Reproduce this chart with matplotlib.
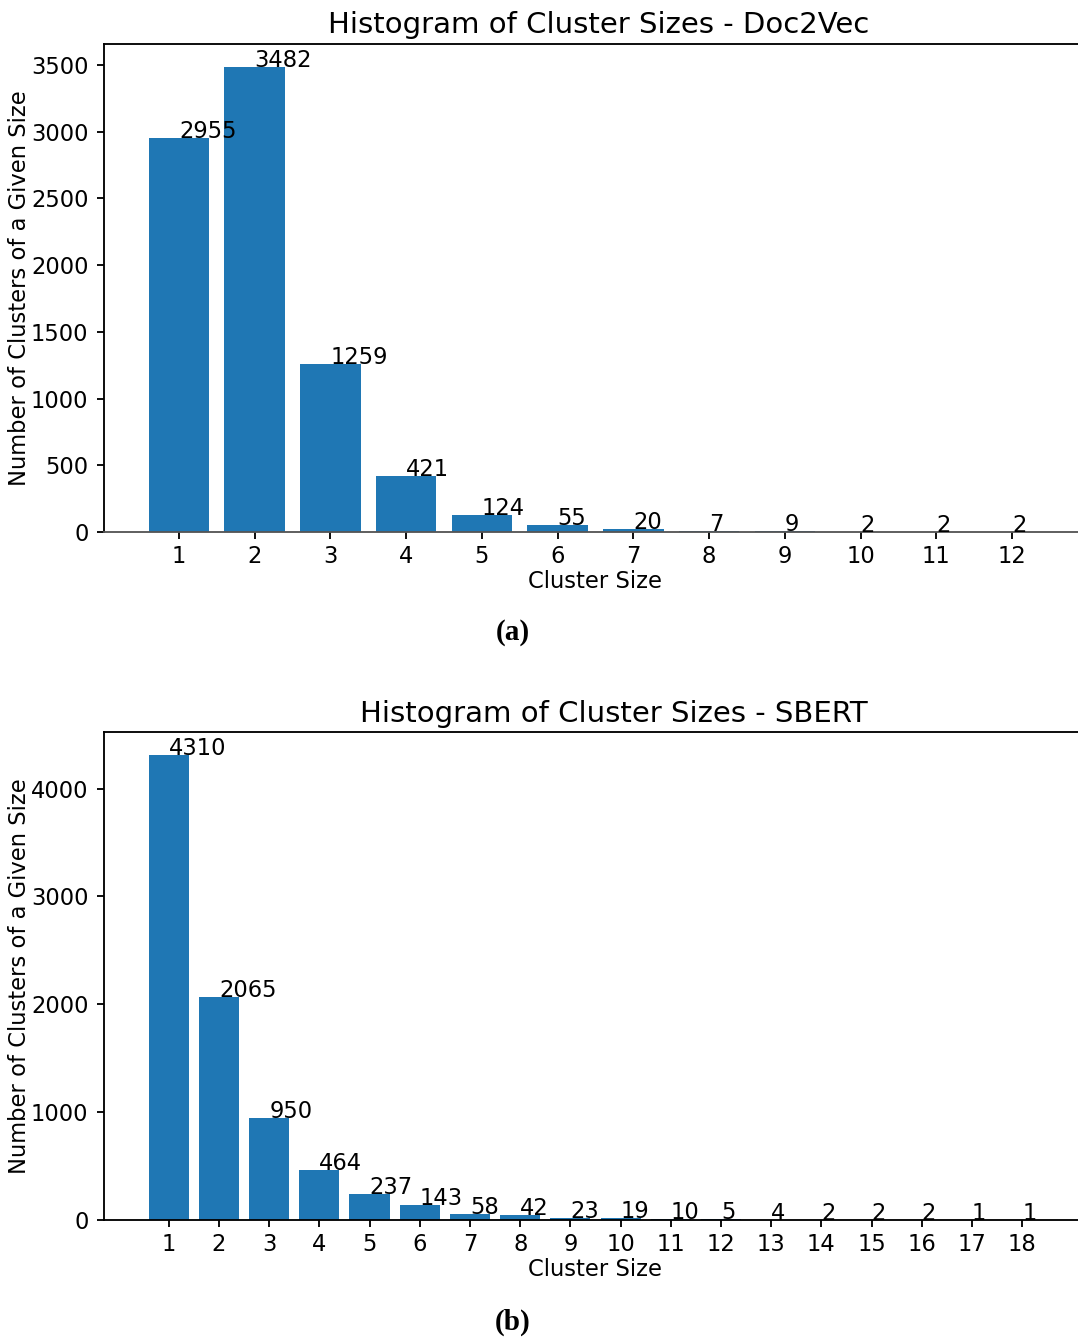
import numpy as np
import matplotlib
matplotlib.use("Agg")
import matplotlib.pyplot as plt

# cluster size histograms
doc2vec_sizes = list(range(1, 13))
doc2vec_counts = [2955, 3482, 1259, 421, 124, 55, 20, 7, 9, 2, 2, 2]

sbert_sizes = list(range(1, 19))
sbert_counts = [4310, 2065, 950, 464, 237, 143, 58, 42, 23, 19, 10, 5, 4, 2, 2, 2, 1, 1]

W, H = 1078, 1338
S = 1.66  # scale from default sizes
FS = 16.3

plt.rcParams['font.family'] = ['DejaVu Sans']
plt.rcParams['axes.linewidth'] = 0.8 * S
plt.rcParams['xtick.major.size'] = 3.2 * S
plt.rcParams['ytick.major.size'] = 3.2 * S
plt.rcParams['xtick.major.width'] = 0.8 * S
plt.rcParams['ytick.major.width'] = 0.8 * S
plt.rcParams['xtick.major.pad'] = 2.3 * S
plt.rcParams['ytick.major.pad'] = 3.5 * S

fig = plt.figure(figsize=(W / 100, H / 100), dpi=100)


def px_axes(left, top, right, bottom):
    return fig.add_axes([left / W, 1 - bottom / H, (right - left) / W, (bottom - top) / H])


def draw(ax, sizes, counts, title, title_x, pad):
    ax.bar(sizes, counts, color='#1f77b4')
    for s, c in zip(sizes, counts):
        ax.text(s, c, str(c), fontsize=FS)
    ax.set_xticks(sizes)
    ax.tick_params(labelsize=FS)
    ax.set_xlabel("Cluster Size", fontsize=FS, labelpad=1.5)
    ax.set_ylabel("Number of Clusters of a Given Size", fontsize=FS)
    ax.yaxis.set_label_coords(-0.074, 0.5)
    ax.set_title(title, fontsize=21, pad=pad, x=title_x)


ax1 = px_axes(104, 44, 1087, 532)
draw(ax1, doc2vec_sizes, doc2vec_counts, "Histogram of Cluster Sizes - Doc2Vec", 0.503, 8)
ax1.spines['bottom'].set_color('#555555')

ax2 = px_axes(104, 732, 1087, 1220)
draw(ax2, sbert_sizes, sbert_counts, "Histogram of Cluster Sizes - SBERT", 0.519, 7)

cap = dict(ha='center', va='center', fontsize=21, fontweight='bold',
           family=['Liberation Serif', 'DejaVu Serif'])
fig.text(513 / W, 1 - 633 / H, "(a)", **cap)
fig.text(513 / W, 1 - 1322 / H, "(b)", **cap)

fig.savefig("out.png", dpi=100)
